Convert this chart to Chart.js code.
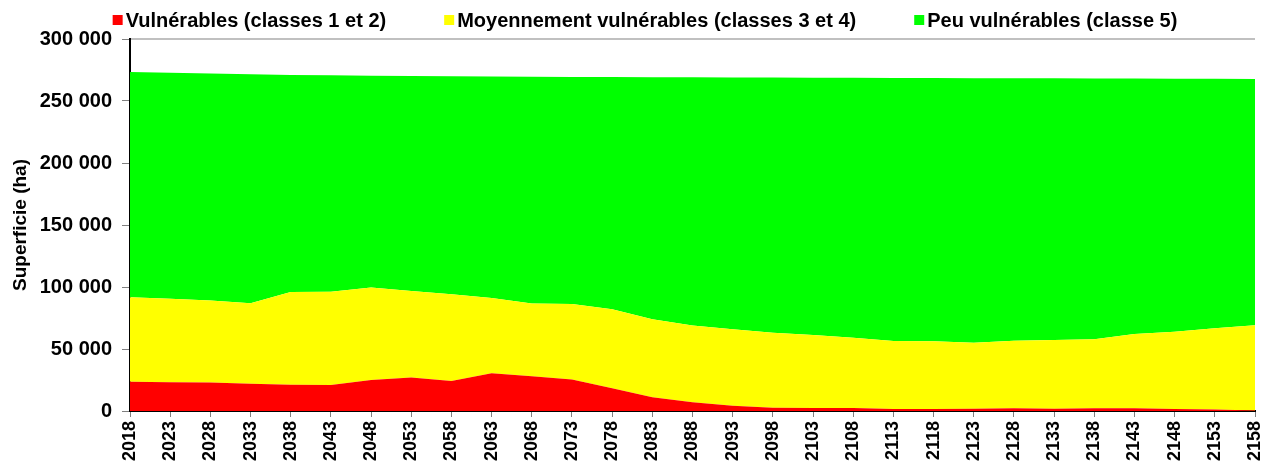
<!DOCTYPE html>
<html>
<head>
<meta charset="utf-8">
<script src="https://cdn.jsdelivr.net/npm/chart.js@4/dist/chart.umd.min.js"></script>
<style>
  html, body { margin: 0; padding: 0; background: #fff; }
  #wrap { width: 1262px; height: 468px; position: relative; }
</style>
</head>
<body>
<div id="wrap"><canvas id="chart"></canvas></div>
<script>
// --- DONNÉES ---
const years = ['2018','2023','2028','2033','2038','2043','2048','2053','2058','2063','2068','2073','2078','2083','2088',
  '2093','2098','2103','2108','2113','2118','2123','2128','2133','2138','2143','2148','2153','2158'];

const vulnerables = [23600, 23100, 23000, 22000, 21200, 21000, 25000, 27100, 24200, 30400, 28000, 25500, 18300, 11000, 7000,
  4300, 2700, 2400, 2400, 1600, 1600, 1900, 2200, 1900, 2200, 2200, 1600, 1300, 500];

const moyennement = [68100, 67500, 66200, 64800, 74800, 75200, 74500, 69700, 69900, 60700, 58600, 60800, 63700, 63000, 62000,
  61600, 60500, 58900, 56700, 54900, 54600, 53200, 54500, 55400, 55600, 59900, 62400, 65400, 68600];

const peuVulnerables = [181700, 182200, 183000, 184800, 175000, 174500, 170900, 173400, 175900, 178700, 183000, 183100, 187300, 195200, 200100,
  203100, 205700, 207500, 209600, 212100, 212300, 213300, 211600, 211000, 210400, 206000, 204000, 201200, 198600];

const seriesLabels = ['Vulnérables (classes 1 et 2)', 'Moyennement vulnérables (classes 3 et 4)', 'Peu vulnérables (classe 5)'];
const seriesColors = ['#FF0000', '#FFFF00', '#00FF00'];

const fmt = (v) => String(v).replace(/\B(?=(\d{3})+(?!\d))/g, ' ');

// --- LÉGENDE + BORDURE HAUTE ---
const customLegend = {
    id: 'customLegend',
    afterDraw(chart) {
        const ctx = chart.ctx;
        const area = chart.chartArea;
        const y = chart.scales.y;

        // ligne grise en haut de la zone de tracé
        ctx.save();
        ctx.strokeStyle = '#c0c0c0';
        ctx.lineWidth = 2;
        ctx.beginPath();
        ctx.moveTo(area.left + 1, y.getPixelForValue(300000));
        ctx.lineTo(area.right, y.getPixelForValue(300000));
        ctx.stroke();

        ctx.font = 'bold 20px "Liberation Sans", Arial, sans-serif';
        ctx.textBaseline = 'middle';
        ctx.textAlign = 'left';
        const box = 10, gapText = 3, gapItem = 58;
        const widths = seriesLabels.map(t => ctx.measureText(t).width);
        const total = widths.reduce((a, w) => a + box + gapText + w, 0) + gapItem * (seriesLabels.length - 1);
        let x = 645 - total / 2;
        const cy = 20;
        seriesLabels.forEach((t, i) => {
            ctx.fillStyle = seriesColors[i];
            ctx.fillRect(x, cy - box / 2, box, box);
            ctx.fillStyle = '#000';
            ctx.fillText(t, x + box + gapText, cy + 1);
            x += box + gapText + widths[i] + gapItem;
        });
        ctx.restore();
    }
};

const datasets = [vulnerables, moyennement, peuVulnerables].map((d, i) => ({
    label: seriesLabels[i],
    data: d,
    backgroundColor: seriesColors[i],
    borderColor: seriesColors[i],
    borderWidth: 0,
    pointRadius: 0,
    tension: 0,
    fill: i === 0 ? 'origin' : '-1'
}));

new Chart(document.getElementById('chart'), {
    type: 'line',
    data: { labels: years, datasets },
    options: {
        responsive: true,
        maintainAspectRatio: false,
        animation: false,
        layout: { padding: { top: 39, right: 7, bottom: 0, left: 0 } },
        plugins: { legend: { display: false }, tooltip: { enabled: false } },
        scales: {
            x: {
                offset: false,
                grid: { display: true, drawOnChartArea: false, color: '#808080', tickLength: 6 },
                border: { color: '#000', width: 2 },
                ticks: {
                    color: '#000',
                    font: { family: '"Liberation Sans", Arial, sans-serif', weight: 'bold', size: 18 },
                    minRotation: 90, maxRotation: 90, autoSkip: false, padding: 4
                },
                afterFit(scale) { scale.height = 57; scale.paddingLeft = 0; scale.paddingRight = 0; }
            },
            y: {
                stacked: true,
                min: 0, max: 300000,
                grid: {
                    color: 'transparent',
                    tickColor: '#808080',
                    tickLength: 8
                },
                border: { color: '#000', width: 2 },
                ticks: {
                    stepSize: 50000,
                    color: '#000',
                    padding: 10,
                    font: { family: '"Liberation Sans", Arial, sans-serif', weight: 'bold', size: 20 },
                    callback: (v) => fmt(v)
                },
                title: {
                    display: true,
                    text: 'Superficie (ha)',
                    color: '#000',
                    font: { family: '"Liberation Sans", Arial, sans-serif', weight: 'bold', size: 19 },
                    padding: { top: 9, bottom: 0 }
                },
                afterFit(scale) { scale.width = 130; }
            }
        }
    },
    plugins: [customLegend]
});
</script>
</body>
</html>
